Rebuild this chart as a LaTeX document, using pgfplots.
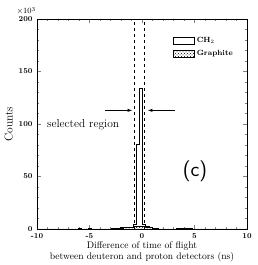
\documentclass[border=0pt]{standalone}
\usepackage{pgfplots}
\pgfplotsset{compat=1.18}
\usetikzlibrary{patterns}
\begin{document}
\begin{tikzpicture}
\begin{axis}[
  name=ax,
  scale only axis, width=210pt, height=210pt,
  xmin=-10, xmax=10, ymin=0, ymax=200,
  clip=false,
  xtick={-10,-5,0,5,10}, ytick={0,50,100,150,200},
  minor x tick num=4, minor y tick num=4,
  tick align=inside,
  major tick length=4pt, minor tick length=2pt,
  tick style={line width=0.5pt},
  axis line style={line width=0.6pt},
  /pgf/number format/assume math mode=true,
  tick label style={font=\bfseries\fontsize{7.5}{8}\selectfont},
  xticklabel style={yshift=-1pt},
  yticklabel style={xshift=-1pt},
  ylabel={Counts},
  ylabel style={font=\fontsize{11.5}{12}\selectfont, yshift=-1pt},
  xlabel={Difference of time of flight\\between deuteron and proton detectors (ns)},
  xlabel style={font=\fontsize{9.6}{11}\selectfont, align=center, yshift=4pt},
  legend style={at={(0.648,0.925)}, anchor=north west, draw=none, fill=none,
    font=\bfseries\fontsize{7.5}{8}\selectfont, row sep=3pt, inner sep=0pt},
  legend cell align=left,
  legend image code/.code={\draw[#1, line width=0.5pt] (0pt,-3.5pt) rectangle (21pt,3.5pt);},
]
\addplot[const plot, draw=black, line width=0.6pt, fill=white] coordinates {
(-10,0) (-6.05,0.3) (-5.75,0) (-5.15,0.8) (-4.85,0)
(-2.95,0.3) (-2.65,0.5) (-2.35,0.8) (-2.05,1.0) (-1.75,1.2) (-1.45,1.5)
(-1.15,2.0) (-0.85,4.0) (-0.55,81) (-0.25,134) (0.05,4) (0.35,2.5)
(0.65,1.5) (0.95,0.8) (1.25,0.4) (1.55,0) (3.25,0.4) (3.55,0.6)
(3.85,0.9) (4.15,1.1) (4.45,0.6) (4.75,0) (10,0)
} \closedcycle;
\addlegendentry{CH$_2$}
\addplot[const plot, draw=black, line width=0.3pt, pattern=crosshatch dots] coordinates {
(-10,0) (-2.65,0.6) (-2.35,1.0) (-2.05,1.3) (-1.75,1.5) (-1.45,1.8)
(-1.15,2.0) (-0.85,2.4) (-0.55,2.5) (-0.25,2.8) (0.05,2.4) (0.35,2.0)
(0.65,1.3) (0.95,0.7) (1.25,0.3) (1.55,0) (4.15,0.4) (4.45,0.5)
(4.75,0) (10,0)
} \closedcycle;
\addlegendentry{Graphite}
\draw[dashed, line width=0.5pt] (axis cs:-0.76,0) -- (axis cs:-0.76,200);
\draw[dashed, line width=0.5pt] (axis cs:0.19,0) -- (axis cs:0.19,200);
\draw[-latex, line width=0.5pt] (axis cs:-3.52,113) -- (axis cs:-0.95,113);
\draw[-latex, line width=0.5pt] (axis cs:3.14,113) -- (axis cs:0.57,113);
\node[anchor=west, font=\fontsize{11.5}{12}\selectfont, inner sep=0pt] at (axis cs:-9.05,99) {selected region};
\node[font=\sffamily\fontsize{21}{22}\selectfont] at (axis cs:5.05,55) {(c)};
\node[anchor=south east, font=\fontsize{8.5}{9}\selectfont, inner sep=0pt] at ([xshift=-1pt,yshift=4pt]rel axis cs:0,1) {$\times10^3$};
\end{axis}
\pgfresetboundingbox
\path ([shift={(-37pt,-36pt)}]ax.south west) rectangle ([shift={(10pt,19pt)}]ax.north east);
\end{tikzpicture}
\end{document}
